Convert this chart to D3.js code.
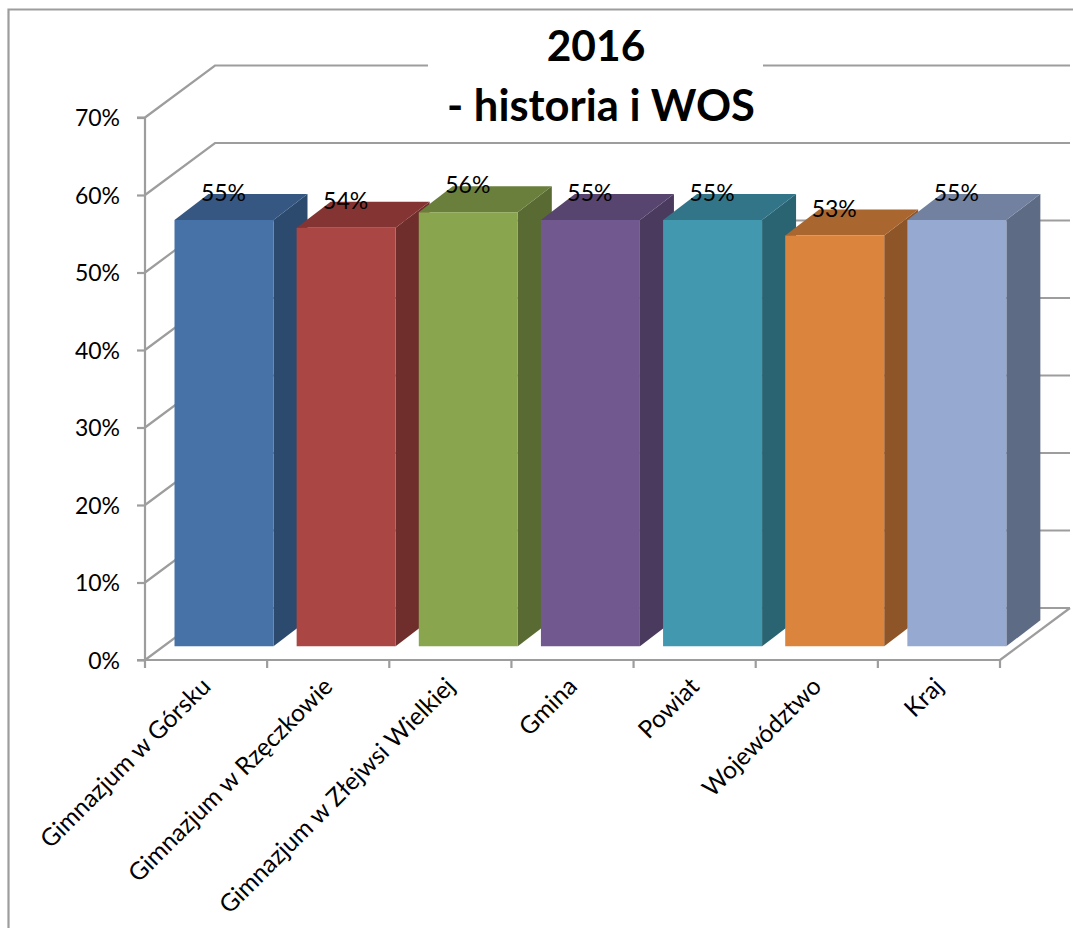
<!DOCTYPE html>
<html><head><meta charset="utf-8">
<script src="https://cdn.jsdelivr.net/npm/d3@7"></script>
<style>html,body{margin:0;padding:0;background:#fff}svg{display:block}text{font-family:Lato,"Open Sans",sans-serif;fill:#000}</style>
</head><body><svg id="c" width="1073" height="928"></svg>
<script>
const categories=["Gimnazjum w Górsku","Gimnazjum w Rzęczkowie","Gimnazjum w Złejwsi Wielkiej","Gmina","Powiat","Województwo","Kraj"];
const values=[0.55,0.54,0.56,0.55,0.55,0.53,0.55];
const labels=["55%","54%","56%","55%","55%","53%","55%"];
const frontColors=["#4672A8","#AA4643","#89A54E","#71588F","#4198AF","#DB843D","#96A9D1"];
const topColors=["#355781","#843533","#6A7F3C","#57446F","#327588","#A9662F","#7381A0"];
const sideColors=["#2C4A6E","#6F2E2C","#596B33","#4A3A5D","#2A6372","#8E5628","#5E6B85"];
const yTicks=[0,0.1,0.2,0.3,0.4,0.5,0.6,0.7];
const titleLines=["2016","- historia i WOS"];

const svg=d3.select("#c");
const GRID="#9d9d9d";
const x=d3.scaleBand().domain(categories).range([145,1000]).paddingInner(0).paddingOuter(0);
const y=d3.scaleLinear().domain([0,0.7]).range([660,117.5]);
const wall={dx:70,dy:-52}, depth={dx:34,dy:-26}, off={dx:18,dy:-13.75}, gap=11.5;

// frame
svg.append("path").attr("d","M8.5,928V9.5H1073").attr("fill","none").attr("stroke",GRID).attr("stroke-width",2.2);

// walls
svg.append("g").selectAll("path").data(yTicks).join("path")
 .attr("d",d=>d3.line()([[145,y(d)],[145+wall.dx,y(d)+wall.dy],[1000+wall.dx,y(d)+wall.dy]]))
 .attr("fill","none").attr("stroke",GRID).attr("stroke-width",2.2);
svg.append("path").attr("d",d3.line()([[1000+wall.dx,y(0)+wall.dy],[1000,y(0)]])).attr("fill","none").attr("stroke",GRID).attr("stroke-width",2.2);

// axes
const yAxis=d3.axisLeft(y).tickValues(yTicks).tickFormat(d3.format(".0%")).tickSize(8).tickPadding(17);
const gy=svg.append("g").attr("transform","translate(145,0)").call(yAxis);
const xAxis=d3.axisBottom(x).tickSize(8).tickFormat("");
const gx=svg.append("g").attr("transform","translate(0,660)").call(xAxis);
gx.selectAll(".tick").remove();
gx.selectAll("line.t").data(d3.range(categories.length+1)).join("line").attr("class","t")
 .attr("x1",i=>145+i*x.step()).attr("x2",i=>145+i*x.step()).attr("y1",0).attr("y2",8);
[gx,gy].forEach(g=>{g.selectAll("path.domain").attr("stroke",GRID).attr("stroke-width",2.2);g.selectAll("line").attr("stroke",GRID).attr("stroke-width",2.2);});
gx.select("path.domain").attr("d","M145,0H1000");
gy.select("path.domain").attr("d","M-8,117.5H0V660H-8");
gy.selectAll("text").attr("font-size",23).attr("transform","translate(0,1)").style("font-family","Lato");

// title mask
svg.append("rect").attr("x",428).attr("y",22).attr("width",335).attr("height",108).attr("fill","#fff");

// bars
const bars=svg.append("g").selectAll("g").data(categories).join("g");
const fx=c=>x(c)+off.dx+gap, bw=99;
const fy=i=>y(values[i])+off.dy, by=y(0)+off.dy;
bars.append("path").attr("fill",(c,i)=>sideColors[i])
 .attr("d",(c,i)=>d3.line()([[fx(c)+bw,fy(i)],[fx(c)+bw+depth.dx,fy(i)+depth.dy],[fx(c)+bw+depth.dx,by+depth.dy],[fx(c)+bw,by]])+"Z");
bars.append("path").attr("fill",(c,i)=>topColors[i])
 .attr("d",(c,i)=>d3.line()([[fx(c),fy(i)],[fx(c)+depth.dx,fy(i)+depth.dy],[fx(c)+bw+depth.dx,fy(i)+depth.dy],[fx(c)+bw,fy(i)]])+"Z");
bars.append("rect").attr("fill",(c,i)=>frontColors[i]).attr("x",c=>fx(c)).attr("y",(c,i)=>fy(i)).attr("width",bw).attr("height",(c,i)=>by-fy(i));

// data labels
svg.append("g").selectAll("text").data(categories).join("text")
 .attr("x",c=>fx(c)+49).attr("y",(c,i)=>fy(i)-19).attr("text-anchor","middle").attr("font-size",23)
 .text((c,i)=>labels[i]);

// category labels
svg.append("g").selectAll("text").data(categories).join("text")
 .attr("text-anchor","end").attr("font-size",24.5)
 .attr("transform",c=>`translate(${x(c)+x.bandwidth()/2+6},${688}) rotate(-45)`)
 .text(c=>c);

// title
svg.append("g").selectAll("text").data(titleLines).join("text")
 .attr("x",(d,i)=>i?601:596).attr("y",(d,i)=>61+i*60).attr("text-anchor","middle")
 .attr("font-size",(d,i)=>i?43.5:42.5).attr("font-weight",700).text(d=>d);
</script></body></html>
